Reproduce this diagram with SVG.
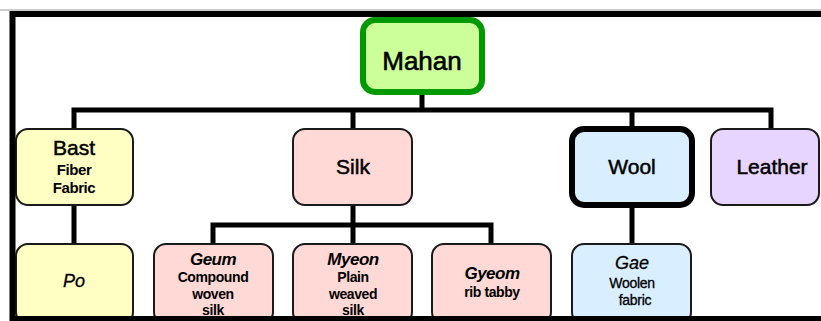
<svg xmlns="http://www.w3.org/2000/svg" width="821" height="321" viewBox="0 0 821 321">
<style>
text{font-family:"Liberation Sans",Arial,sans-serif;text-anchor:middle;fill:#000}
.box{stroke:#1a1a1a;stroke-width:2}
.yel{fill:#ffffc4}.pink{fill:#ffd9d6}.blue{fill:#d9eeff}.lav{fill:#e8d5ff}
.big{font-size:21px;stroke:#000;stroke-width:0.5px}
.sub{font-size:15px;font-weight:bold;letter-spacing:-0.4px}
.sm{font-size:14px;font-weight:bold;letter-spacing:-0.4px}
.smr{font-size:14px;letter-spacing:-0.3px;stroke:#000;stroke-width:0.3px}
.it{font-size:17px;font-weight:bold;font-style:italic;letter-spacing:-0.5px}
.conn{stroke:#000;stroke-width:5;fill:none}
</style>
<rect x="0" y="0" width="821" height="321" fill="#fff"/>
<line x1="0" y1="10" x2="821" y2="10" stroke="#999" stroke-width="1"/>
<g id="connectors">
<path class="conn" d="M422 92V110M74 128V110H771V128M353 110V128M632 110V128"/>
<path class="conn" d="M74 205V245"/>
<path class="conn" d="M353 205V225M213 245V225H491V245M353 225V245"/>
<path class="conn" d="M632 205V245"/>
</g>
<g id="mahan"><rect x="363" y="20" width="119" height="72" rx="12" fill="#ccff99" stroke="#009900" stroke-width="6"/><text x="422" y="70" font-size="26" stroke="#000" stroke-width="0.6">Mahan</text></g>
<g id="bast"><rect class="box yel" x="16" y="129" width="117" height="76" rx="12"/><text class="big" x="74" y="155">Bast</text><text class="sub" x="74" y="175">Fiber</text><text class="sub" x="74" y="193">Fabric</text></g>
<g id="silk"><rect class="box pink" x="293" y="129" width="119" height="76" rx="12"/><text class="big" x="353" y="174">Silk</text></g>
<g id="wool"><rect x="572" y="129" width="120" height="76" rx="12" class="blue" stroke="#000" stroke-width="6"/><text class="big" x="632" y="174">Wool</text></g>
<g id="leather"><rect class="box lav" x="711" y="129" width="108" height="76" rx="12"/><text class="big" x="772" y="174">Leather</text></g>
<g id="po"><rect class="box yel" x="16" y="244" width="117" height="80" rx="12"/><text x="74" y="287" font-size="18" font-style="italic" stroke="#000" stroke-width="0.3">Po</text></g>
<g id="geum"><rect class="box pink" x="154" y="244" width="119" height="80" rx="12"/><text class="it" x="213" y="265">Geum</text><text class="sm" x="213" y="282">Compound</text><text class="sm" x="213" y="299">woven</text><text class="sm" x="213" y="315">silk</text></g>
<g id="myeon"><rect class="box pink" x="293" y="244" width="119" height="80" rx="12"/><text class="it" x="353" y="265">Myeon</text><text class="sm" x="353" y="282">Plain</text><text class="sm" x="353" y="299">weaved</text><text class="sm" x="353" y="315">silk</text></g>
<g id="gyeom"><rect class="box pink" x="432" y="244" width="119" height="80" rx="12"/><text class="it" x="492" y="279">Gyeom</text><text class="sm" x="492" y="297">rib tabby</text></g>
<g id="gae"><rect class="box blue" x="572" y="244" width="119" height="80" rx="12"/><text x="632" y="269" font-size="18" font-style="italic" stroke="#000" stroke-width="0.3">Gae</text><text class="smr" x="632" y="288">Woolen</text><text class="smr" x="635" y="305">fabric</text></g>
<path d="M12.5 321V14H821M10 319H821" fill="none" stroke="#000" stroke-width="6"/>
</svg>
